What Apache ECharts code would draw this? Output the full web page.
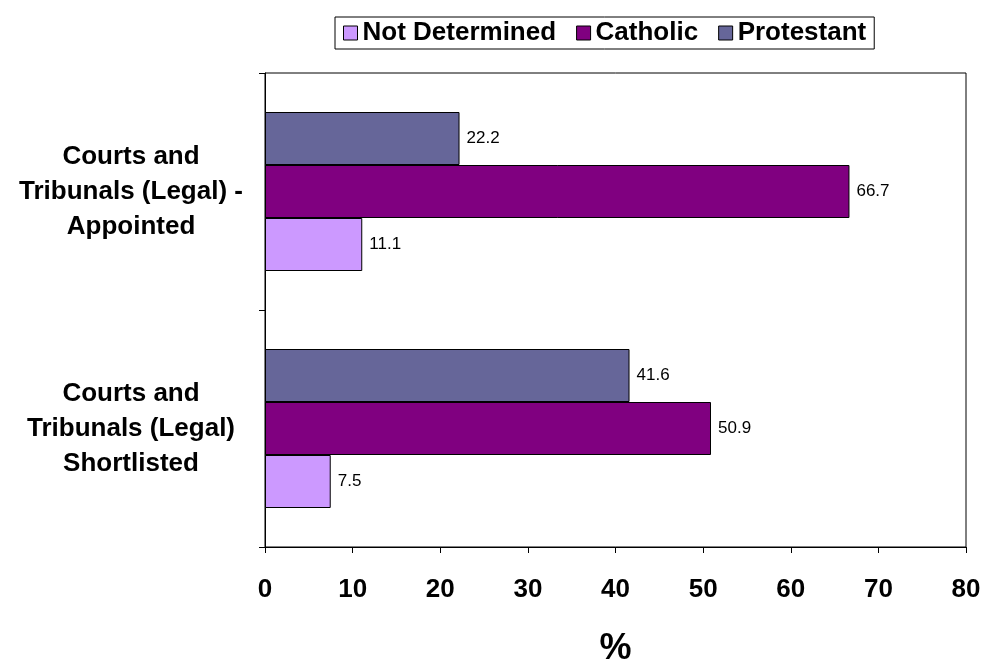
<!DOCTYPE html>
<html>
<head>
<meta charset="utf-8">
<script src="https://cdn.jsdelivr.net/npm/echarts@6/dist/echarts.min.js"></script>
<style>
html,body{margin:0;padding:0;background:#fff;}
#c{width:983px;height:665px;}
</style>
</head>
<body>
<div id="c"></div>
<script>
const categories = [
  "Courts and\nTribunals (Legal)\nShortlisted",
  "Courts and\nTribunals (Legal) -\nAppointed"
];
const seriesNames = ["Not Determined", "Catholic", "Protestant"];
const notDetermined = [7.5, 11.1];
const catholic = [50.9, 66.7];
const protestant = [41.6, 22.2];
const xTicks = [0, 10, 20, 30, 40, 50, 60, 70, 80];
const colors = ["#CC99FF", "#800080", "#666699"];

const FONT = "'Liberation Sans', Arial, sans-serif";
const chart = echarts.init(document.getElementById('c'));

function mk(name, data, color) {
  return {
    name: name,
    type: 'bar',
    data: data,
    barWidth: 53,
    barGap: '0%',
    itemStyle: { color: color, borderColor: '#000', borderWidth: 1 },
    label: {
      show: true, position: 'right', distance: 7,
      color: '#000', fontSize: 17, fontFamily: FONT,
      formatter: p => p.value.toFixed(1)
    }
  };
}

chart.setOption({
  animation: false,
  backgroundColor: '#fff',
  legend: {
    data: seriesNames,
    icon: 'rect',
    left: 335, top: 17,
    padding: [3, 8, 3, 8],
    itemGap: 20,
    itemWidth: 14, itemHeight: 14,
    borderColor: '#000', borderWidth: 1,
    itemStyle: { borderColor: '#000', borderWidth: 1 },
    textStyle: { fontSize: 26, fontWeight: 'bold', color: '#000', fontFamily: FONT }
  },
  grid: {
    left: 265, right: 17, top: 73, bottom: 118,
    outerBoundsMode: 'none',
    containLabel: false,
    show: true, borderColor: '#000', borderWidth: 1, backgroundColor: 'transparent'
  },
  xAxis: {
    type: 'value', min: xTicks[0], max: xTicks[xTicks.length - 1], interval: 10,
    splitLine: { show: false },
    axisLine: { show: true, lineStyle: { color: '#000', width: 1 } },
    axisTick: { show: true, inside: false, length: 6, lineStyle: { color: '#000' } },
    axisLabel: { fontSize: 26, fontWeight: 'bold', color: '#000', fontFamily: FONT, margin: 30 },
    name: '%', nameLocation: 'middle', nameGap: 84,
    nameTextStyle: { fontSize: 36, fontWeight: 'bold', color: '#000', fontFamily: FONT }
  },
  yAxis: {
    type: 'category', data: categories,
    axisLine: { show: true, lineStyle: { color: '#000', width: 1 } },
    axisTick: { show: true, length: 6, lineStyle: { color: '#000' } },
    axisLabel: {
      fontSize: 26, fontWeight: 'bold', color: '#000', fontFamily: FONT,
      align: 'center', margin: 134, lineHeight: 35
    }
  },
  series: [
    mk(seriesNames[2], protestant, colors[2]),
    mk(seriesNames[1], catholic, colors[1]),
    mk(seriesNames[0], notDetermined, colors[0])
  ]
});
</script>
</body>
</html>
